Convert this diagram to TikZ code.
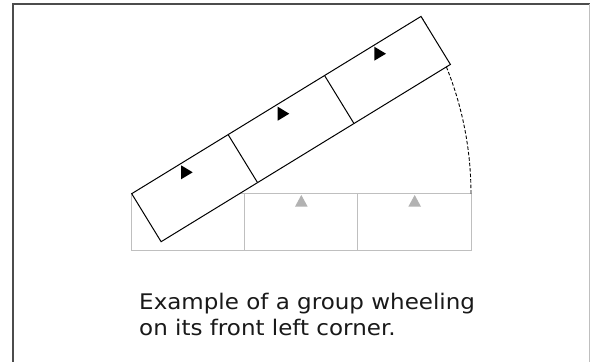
\documentclass[tikz,border=0pt]{standalone}
\usepackage{fontspec}
\setmainfont{DejaVu Sans}
\begin{document}
\begin{tikzpicture}[x=1pt,y=-1pt,
  frameline/.style={draw=black!70, line width=2pt},
  graybox/.style={draw=black!25, line width=1pt},
  blackbox/.style={draw=black, line width=1pt, fill=white},
  graytri/.style={fill=black!30},
  blacktri/.style={fill=black},
  arcline/.style={draw=black, line width=0.9pt, dash pattern=on 3.5pt off 2pt},
  captext/.style={font=\fontsize{21.5}{26}\selectfont, text=black!90, anchor=base west, inner sep=0pt, xscale=1.07}]
\useasboundingbox (0,0) rectangle (590,362);
\fill[white] (0,0) rectangle (590,362);
% frame
\draw[frameline] (13,362) -- (13,4) -- (590,4);
\draw[draw=black!25, line width=1pt] (589.5,4) -- (589.5,362);
% gray original position
\draw[graybox] (131.7,193.7) rectangle (244.8,250);
\draw[graybox] (244.8,193.7) rectangle (357.9,250);
\draw[graybox] (357.9,193.7) rectangle (471,250);
\fill[graytri] (295,206.7) -- (307.7,206.7) -- (301.3,195) -- cycle;
\fill[graytri] (408.3,206.7) -- (421,206.7) -- (414.7,195) -- cycle;
% dashed arc
\draw[arcline] plot[domain=0:31.5, samples=80] ({131.7+339.3*cos(\x)}, {193.7-339.3*sin(\x)});
% rotated group
\begin{scope}[shift={(131.7,193.7)}, rotate=31.5]
  \draw[blackbox] (0,0) rectangle (339.3,56.3);
  \draw[blackbox] (113.1,0) -- (113.1,56.3);
  \draw[blackbox] (226.2,0) -- (226.2,56.3);
\end{scope}
\fill[blacktri] (181,165.3) -- (181,179.3) -- (192.7,172.3) -- cycle;
\fill[blacktri] (277.7,106.7) -- (277.7,120.7) -- (289.3,113.7) -- cycle;
\fill[blacktri] (374.3,46.7) -- (374.3,60.7) -- (386,53.7) -- cycle;
% caption
\node[captext] (cap1) at (139,309) {Example of a group wheeling};
\node[captext] (cap2) at (139,335) {on its front left corner.};
\end{tikzpicture}
\end{document}
